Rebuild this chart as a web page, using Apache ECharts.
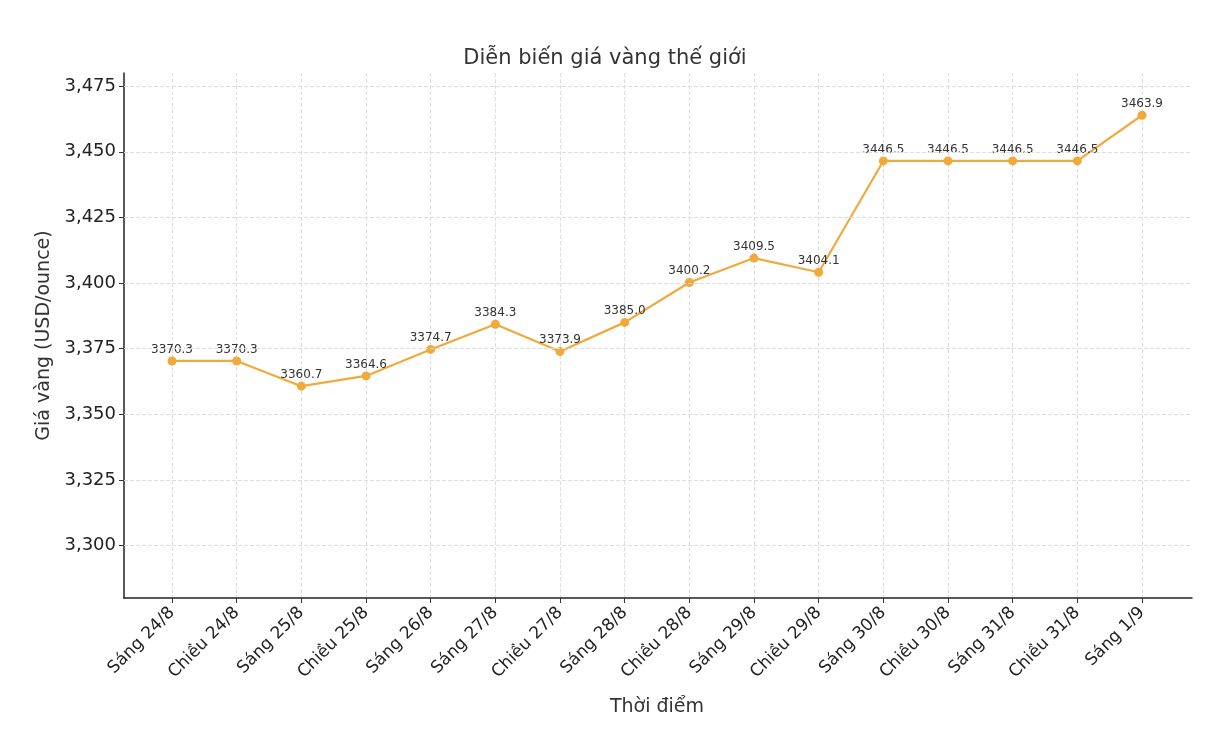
<!DOCTYPE html>
<html><head><meta charset="utf-8">
<script src="https://cdn.jsdelivr.net/npm/echarts@6/dist/echarts.min.js"></script>
<style>html,body{margin:0;background:#fff}#c{width:1210px;height:730px}</style>
</head><body><div id="c"></div>
<script>
const categories = ["Sáng 24/8","Chiều 24/8","Sáng 25/8","Chiều 25/8","Sáng 26/8","Sáng 27/8","Chiều 27/8","Sáng 28/8","Chiều 28/8","Sáng 29/8","Chiều 29/8","Sáng 30/8","Chiều 30/8","Sáng 31/8","Chiều 31/8","Sáng 1/9"];
const prices = [3370.3,3370.3,3360.7,3364.6,3374.7,3384.3,3373.9,3385.0,3400.2,3409.5,3404.1,3446.5,3446.5,3446.5,3446.5,3463.9];
const yTickValues = [3300,3325,3350,3375,3400,3425,3450,3475];
const yMin = 3280, yMax = 3480;
const font = 'DejaVu Sans';
const chart = echarts.init(document.getElementById('c'));
chart.setOption({
  animation:false,
  textStyle:{fontFamily:font},
  title:{text:'Diễn biến giá vàng thế giới',left:'center',top:43,textStyle:{fontFamily:font,fontSize:21,fontWeight:'normal',color:'#333'}},
  grid:[{left:172,right:68,top:73,bottom:132},{left:124,right:18,top:73,bottom:132}],
  xAxis:[
    {type:'category',gridIndex:0,data:categories,boundaryGap:false,
     axisLine:{show:false},axisTick:{show:true,length:5,lineStyle:{color:'#333'}},
     axisLabel:{rotate:45,fontSize:17,color:'#222',margin:12,interval:0,fontFamily:font},
     splitLine:{show:true,lineStyle:{type:'dashed',color:'#ddd'}},
     name:'Thời điểm',nameLocation:'middle',nameGap:100,nameTextStyle:{fontSize:19,color:'#333',fontFamily:font}},
    {type:'value',gridIndex:1,min:0,max:1,axisLabel:{show:false},axisTick:{show:false},splitLine:{show:false},
     axisLine:{show:true,lineStyle:{color:'#222',width:1.5}}}
  ],
  yAxis:[
    {type:'value',gridIndex:0,min:yMin,max:yMax,show:false,splitLine:{show:false}},
    {type:'value',gridIndex:1,min:yMin,max:yMax,
     axisLine:{show:true,lineStyle:{color:'#222',width:1.5}},
     axisTick:{show:true,length:5,customValues:yTickValues,lineStyle:{color:'#333'}},
     axisLabel:{fontSize:18,color:'#222',fontFamily:font,customValues:yTickValues},
     splitLine:{show:false},
     name:'Giá vàng (USD/ounce)',nameLocation:'middle',nameGap:66,nameTextStyle:{fontSize:19,color:'#333',fontFamily:font}}
  ],
  series:[
    {type:'line',xAxisIndex:1,yAxisIndex:1,data:[],silent:true,
     markLine:{silent:true,symbol:'none',label:{show:false},lineStyle:{type:'dashed',color:'#ddd',width:1},
       data:yTickValues.map(v=>({yAxis:v}))}},
    {type:'line',xAxisIndex:0,yAxisIndex:0,data:prices,symbol:'circle',symbolSize:9,
    itemStyle:{color:'#f0aa3c'},lineStyle:{color:'#f0aa3c',width:2.2},
    label:{show:true,position:'top',distance:1,fontSize:12,color:'#333',fontFamily:font,formatter:p=>p.value.toFixed(1)}}]
});
</script></body></html>
